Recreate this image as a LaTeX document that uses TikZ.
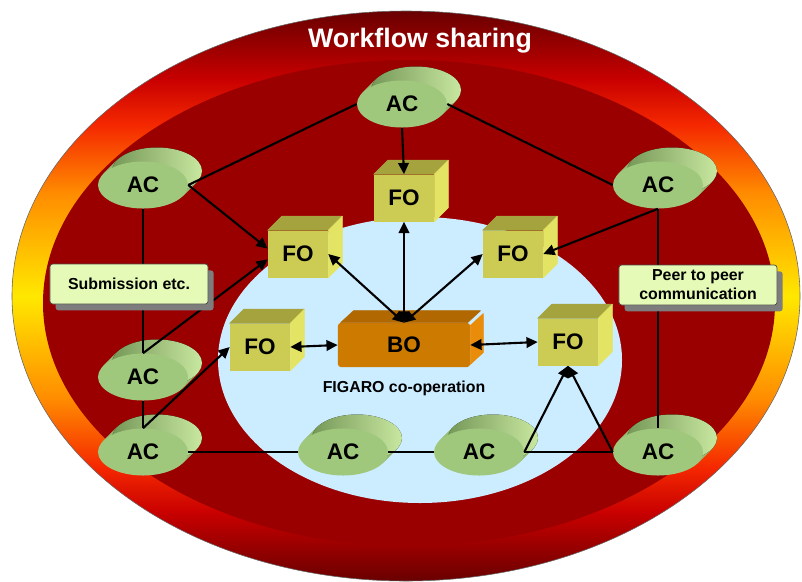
\documentclass[tikz,border=0pt]{standalone}
\usepackage{fontspec}
\setmainfont{Liberation Sans}
\usetikzlibrary{arrows.meta,calc,shapes.geometric,shadows}

\definecolor{ringDark}{RGB}{105,0,0}
\definecolor{ringRed}{RGB}{200,0,0}
\definecolor{ringBright}{RGB}{245,40,0}
\definecolor{ringOrange}{RGB}{255,140,0}
\definecolor{ringYellow}{RGB}{255,232,0}
\definecolor{coreRed}{RGB}{155,0,0}
\definecolor{coopBlue}{RGB}{204,236,255}
\definecolor{acFront}{RGB}{160,200,125}
\definecolor{acSideL}{RGB}{118,152,88}
\definecolor{acSideM}{RGB}{150,188,115}
\definecolor{acSideR}{RGB}{200,232,160}
\definecolor{foFront}{RGB}{204,204,85}
\definecolor{foTopFace}{RGB}{165,163,62}
\definecolor{foSideFace}{RGB}{228,228,100}
\definecolor{boFront}{RGB}{204,122,0}
\definecolor{boTopFace}{RGB}{178,104,0}
\definecolor{boSideFace}{RGB}{232,140,10}
\definecolor{noteFill}{RGB}{228,250,182}
\definecolor{noteShadow}{RGB}{125,125,125}

\pgfdeclareverticalshading{ringShade}{100bp}{%
  color(0bp)=(ringDark); color(25bp)=(ringDark); color(31bp)=(ringRed);
  color(35bp)=(ringBright); color(41bp)=(ringOrange); color(50bp)=(ringYellow);
  color(59bp)=(ringOrange); color(65bp)=(ringBright); color(69bp)=(ringRed);
  color(75bp)=(ringDark); color(100bp)=(ringDark)}

\begin{document}
\begin{tikzpicture}
[x=0.025cm,y=-0.025cm,
  acDecorate/.style={shape=ellipse,inner sep=0pt,minimum width=2.25cm,
    minimum height=1.175cm,fill=acFront,font=\fontsize{16}{18}\selectfont\bfseries},
  acSide/.style={left color=acSideL,right color=acSideR},
  foDecorate/.style={shape=rectangle,inner sep=0pt,minimum width=1.5cm,
    minimum height=1.175cm,fill=foFront,font=\fontsize{16}{18}\selectfont\bfseries},
  boDecorate/.style={shape=rectangle,rounded corners=2pt,inner sep=0pt,minimum width=3.3cm,
    minimum height=1.1cm,fill=boFront,font=\fontsize{16}{18}\selectfont\bfseries},
  faceDecorate/.style={fill=#1,draw=#1,line width=0.4pt,line join=round},
  noteDecorate/.style={shape=rectangle,rounded corners=2pt,draw=black!70,line width=0.5pt,
    fill=noteFill,minimum width=3.95cm,minimum height=1cm,align=center,
    font=\fontsize{11.3}{13.5}\selectfont\bfseries,
    drop shadow={shadow xshift=4pt,shadow yshift=-4.5pt,fill=noteShadow,opacity=1}},
  lineDecorate/.style={-,line width=1.5pt},
  arrowDecorate/.style={-{Triangle[length=8pt,width=7.5pt]},line width=1.5pt},
  bothDecorate/.style={{Triangle[length=8pt,width=7.5pt]}-{Triangle[length=8pt,width=7.5pt]},
    line width=1.5pt}]
\useasboundingbox (0,0) rectangle (802,581);
\fill[white] (0,0) rectangle (802,581);
%% rings
\shadedraw[shading=ringShade,draw=black!60,line width=0.4pt]
  (406,296) ellipse [x radius=394,y radius=285];
\fill[coreRed] (409,303) ellipse [x radius=366,y radius=243];
\fill[coopBlue] (420,360) ellipse [x radius=202,y radius=143];
%% application clients
\foreach \nodename/\x/\y in {
  act/402/104, aclu/143/185, acru/658/185, aclm/143/377,
  aclb/143/452, acb2/343/452, acb3/479/452, acrb/658/452}
{
  \foreach \d in {1,...,13}
    \fill[acSideM] (\x+\d,\y-\d) ellipse [x radius=45,y radius=23.5];
  \fill[acSide] (\x+14,\y-14) ellipse [x radius=45,y radius=23.5];
  \node (\nodename) at (\x,\y) [acDecorate] {AC};
}
%% front offices
\foreach \nodename/\x/\y in {
  foTop/404/198, foLeft/298/254, foRight/513/254, foBL/260/347, foBR/568/342}
{
  \node (\nodename) at (\x,\y) [foDecorate] {FO};
  \path[faceDecorate=foTopFace] (\nodename.north west) -- (\nodename.north east)
    -- ++(14,-14) -- ($(\nodename.north west)+(14,-14)$) -- cycle;
  \path[faceDecorate=foSideFace] (\nodename.north east) -- (\nodename.south east)
    -- ++(14,-14) -- ($(\nodename.north east)+(14,-14)$) -- cycle;
}
%% back office
\node (bo) at (404,345) [boDecorate] {BO};
\path[faceDecorate=boTopFace] ([xshift=2pt]bo.north west) -- ([xshift=-2pt]bo.north east)
  -- ++(13,-12) -- ($([xshift=2pt]bo.north west)+(13,-12)$) -- cycle;
\path[faceDecorate=boSideFace] ([yshift=-2pt]bo.north east) -- ([yshift=2pt]bo.south east)
  -- ++(13,-12) -- ($([yshift=-2pt]bo.north east)+(13,-12)$) -- cycle;
%% connections
\path
\foreach \startnode/\endnode in {
  act.west/aclu.east, act.east/acru.west, aclu.south/aclm.north,
  aclm.south/aclb.north, aclb.east/acb2.west, acb2.east/acb3.west,
  acb3.east/acrb.west, acru.south/acrb.north}
{
  (\startnode) edge[lineDecorate] (\endnode)
};
\path
\foreach \startnode/\endnode in {
  act.south/foTop.north, aclu.east/foLeft.170, aclm.north/foLeft.190,
  aclb.north/foBL.west, acru.south/foRight.east, acb3.east/foBR.south,
  acrb.west/foBR.south}
{
  (\startnode) edge[arrowDecorate] (\endnode)
};
\path
\foreach \startnode/\endnode in {
  bo.north/foLeft.east, bo.north/foTop.south, bo.north/foRight.west,
  foBL.east/bo.west, bo.east/foBR.west}
{
  (\startnode) edge[bothDecorate] (\endnode)
};
%% notes
\node (submission) at (129,284) [noteDecorate] {Submission etc.};
\node (peer) at (698,285) [noteDecorate] {Peer to peer\\communication};
%% titles
\node (title) at (420,47) [anchor=base,text=white,font=\fontsize{19}{22}\selectfont\bfseries]
  {Workflow sharing};
\node (figaro) at (404,392) [anchor=base,font=\fontsize{11.3}{13}\selectfont\bfseries]
  {FIGARO co-operation};
\end{tikzpicture}
\end{document}
